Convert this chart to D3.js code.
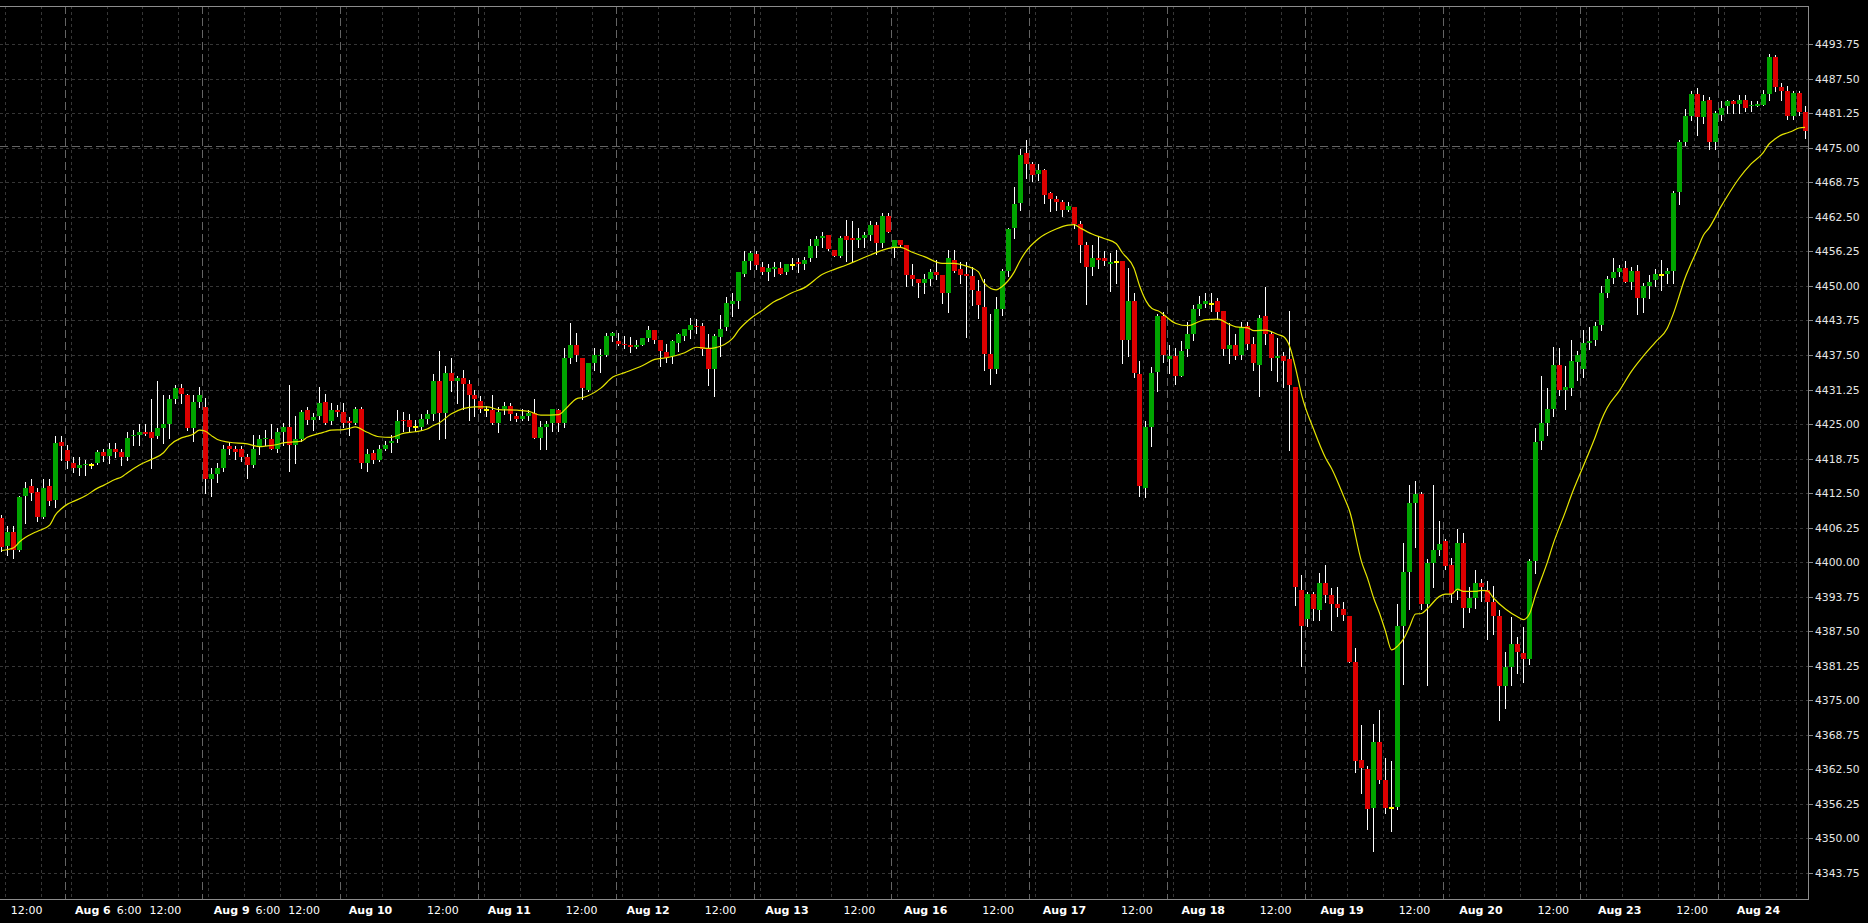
<!DOCTYPE html>
<html><head><meta charset="utf-8">
<script src="https://cdn.jsdelivr.net/npm/d3@7"></script>
<style>
html,body{margin:0;padding:0;background:#000;overflow:hidden;}
svg{display:block;}
</style></head><body>
<svg id="chart" width="1868" height="923"></svg>
<script>
// ---- DATA (hourly candles) ----
const sessionNames = ["Aug 5","Aug 6","Aug 9","Aug 10","Aug 11","Aug 12","Aug 13","Aug 16","Aug 17","Aug 18","Aug 19","Aug 20","Aug 23","Aug 24"];
const sessionStart = [-12, 11, 34, 57, 80, 103, 126, 149, 172, 195, 218, 241, 264, 287];

const open = [
4408.0,4403.0,4405.5,4402.25,4412.0,4413.75,4412.75,4408.25,4413.75,4411.25,4421.75,
4420.25,4418.0,4417.0,4417.5,4417.5,4418.0,4420.0,4419.25,4420.5,4420.0,4419.0,4422.75,4423.0,4423.5,4423.5,4422.75,4424.25,4425.0,4429.5,4431.5,4430.25,4424.25,4429.0,
4428.0,4415.0,4416.0,4417.0,4421.0,4420.5,4420.5,4419.0,4417.5,4421.0,4422.25,4422.25,4420.5,4423.5,4424.5,4421.25,4422.25,4427.5,4425.75,4426.5,4429.0,4425.5,4427.5,
4427.25,4425.5,4425.25,4427.75,4418.0,4419.75,4418.5,4420.5,4421.5,4422.25,4425.75,4425.75,4424.5,4424.5,4426.0,4426.75,4432.75,4427.0,4434.25,4432.75,4433.25,4432.25,4430.25,
4429.25,4427.5,4427.5,4425.25,4427.75,4428.25,4426.5,4426.0,4426.5,4427.0,4422.5,4424.5,4425.25,4427.5,4425.25,4437.0,4439.25,4437.0,4431.25,4436.0,4437.25,4437.5,4441.0,
4440.0,4439.5,4439.25,4439.0,4439.25,4440.5,4442.0,4440.25,4438.0,4437.25,4439.75,4441.0,4442.0,4442.75,4442.75,4438.5,4435.0,4440.75,4442.5,4446.75,4447.25,4452.25,4454.5,
4455.75,4453.5,4452.5,4453.0,4453.25,4452.5,4453.75,4454.25,4454.0,4455.0,4457.25,4458.75,4459.25,4456.5,4455.5,4459.0,4458.75,4458.25,4458.75,4459.25,4461.0,4457.75,4462.75,
4457.0,4458.25,4457.5,4452.0,4451.25,4450.5,4451.25,4452.5,4452.0,4448.75,4454.75,4453.0,4452.25,4451.75,4449.0,4446.25,4437.75,4435.0,4445.75,4452.75,4460.5,4465.0,4474.0,
4472.0,4470.25,4471.0,4466.75,4465.75,4465.25,4463.75,4464.25,4461.25,4457.5,4453.5,4455.0,4455.0,4454.0,4454.25,4454.5,4440.25,4447.25,4434.0,4413.5,4424.5,4434.5,4444.5,
4436.75,4437.25,4433.75,4438.5,4441.25,4445.75,4446.75,4446.75,4447.25,4445.5,4438.5,4439.25,4437.5,4442.75,4439.5,4435.75,4444.5,4441.25,4437.0,4437.25,4436.75,4431.75,4395.0,
4389.75,4394.25,4391.25,4396.25,4394.0,4392.5,4391.5,4390.25,4382.0,4364.25,4362.5,4355.5,4367.5,4360.5,4355.5,4355.75,4388.5,4398.25,4410.75,4412.25,4392.5,4399.75,4402.25,
4403.75,4399.5,4394.75,4403.5,4391.75,4393.5,4396.25,4395.0,4392.75,4390.25,4377.5,4381.0,4385.25,4383.5,4382.5,4400.25,4422.0,4425.25,4427.75,4435.75,4431.25,4431.5,4436.25,
4435.0,4439.75,4440.25,4443.0,4448.75,4451.5,4452.5,4453.25,4450.75,4452.75,4447.75,4450.0,4451.0,4452.0,4452.25,4452.75,4467.0,4476.0,4480.75,4484.75,4480.5,4483.75,4476.0,
4481.0,4482.5,4483.5,4483.0,4483.75,4482.5,4482.5,4482.75,4484.75,4491.5,4486.0,4485.25,4480.75,4485.0,4481.5
];
const high = [
4408.5,4406.5,4406.5,4412.0,4414.5,4415.0,4413.5,4415.0,4415.0,4422.75,4422.75,
4421.25,4419.0,4419.0,4418.5,4418.0,4420.25,4420.5,4421.5,4421.5,4420.5,4423.5,4424.0,4425.0,4425.0,4429.5,4432.75,4430.25,4430.25,4432.0,4432.25,4430.5,4430.25,4431.75,
4429.75,4417.0,4418.0,4421.25,4421.75,4421.0,4421.0,4419.5,4423.0,4423.0,4424.0,4425.0,4424.25,4425.25,4432.0,4426.5,4427.5,4428.0,4427.0,4431.75,4430.5,4428.75,4428.5,
4428.75,4426.25,4428.0,4428.0,4420.5,4420.25,4421.25,4422.0,4423.0,4427.5,4427.25,4426.75,4425.75,4426.75,4427.5,4434.0,4438.25,4435.5,4437.0,4433.75,4434.75,4433.0,4431.25,
4430.0,4428.25,4430.25,4428.0,4429.0,4428.75,4427.0,4427.75,4427.5,4429.5,4425.5,4425.5,4427.75,4427.75,4438.75,4443.25,4441.5,4437.0,4436.0,4438.75,4438.5,4441.5,4441.75,
4441.5,4441.0,4440.75,4440.25,4440.5,4442.75,4442.0,4440.25,4439.5,4440.25,4441.5,4442.25,4444.25,4444.0,4443.25,4441.25,4441.25,4444.75,4448.0,4448.75,4452.5,4456.25,4456.25,
4456.25,4454.25,4454.0,4454.25,4454.25,4454.0,4455.0,4455.0,4455.25,4458.5,4459.0,4459.75,4459.25,4456.5,4459.0,4462.0,4461.75,4460.5,4459.75,4461.75,4461.5,4463.25,4463.25,
4458.25,4458.25,4457.5,4454.0,4451.25,4452.25,4453.0,4454.75,4452.0,4456.5,4456.5,4454.25,4454.25,4453.5,4451.0,4451.25,4445.0,4448.0,4453.0,4460.5,4468.0,4474.75,4476.5,
4472.5,4472.0,4471.25,4467.0,4466.25,4465.5,4465.25,4464.25,4461.75,4458.0,4457.5,4459.0,4456.25,4456.0,4456.5,4454.5,4453.25,4448.75,4436.5,4425.5,4435.25,4445.0,4445.25,
4439.25,4438.75,4440.0,4443.5,4446.5,4448.25,4448.75,4448.75,4447.75,4445.5,4443.25,4441.25,4443.5,4443.5,4440.75,4444.75,4449.75,4441.75,4440.5,4438.0,4445.5,4431.75,4397.75,
4394.5,4394.5,4398.0,4399.5,4395.25,4395.5,4392.75,4390.25,4384.5,4370.5,4363.0,4370.75,4373.25,4364.5,4364.0,4392.5,4403.5,4414.0,4414.75,4412.75,4400.5,4414.0,4407.5,
4404.25,4400.75,4406.0,4405.25,4395.5,4398.5,4397.0,4396.5,4395.75,4391.25,4383.75,4390.0,4386.5,4388.25,4400.5,4424.25,4433.75,4431.5,4439.0,4438.75,4435.5,4440.25,4438.25,
4442.0,4442.5,4443.5,4450.0,4451.75,4455.0,4453.75,4454.5,4453.5,4453.75,4450.5,4452.0,4453.0,4454.75,4453.25,4467.25,4476.5,4482.0,4485.25,4485.75,4484.5,4484.25,4481.75,
4483.5,4483.75,4483.75,4484.5,4484.5,4483.5,4483.5,4485.5,4492.0,4491.75,4486.75,4486.25,4485.25,4485.25,4482.5
];
const low = [
4402.0,4401.25,4400.75,4402.0,4407.0,4411.25,4407.5,4408.0,4410.25,4410.0,4418.5,
4417.0,4416.25,4415.75,4415.75,4417.0,4417.75,4418.25,4418.0,4419.0,4417.5,4418.5,4421.25,4421.25,4423.0,4417.0,4422.5,4421.5,4422.5,4428.75,4428.75,4424.0,4422.0,4428.0,
4412.5,4412.0,4414.5,4416.5,4419.5,4418.75,4418.25,4415.25,4417.25,4419.5,4421.25,4420.5,4420.0,4421.25,4416.5,4418.0,4422.0,4425.0,4424.0,4426.0,4425.0,4425.0,4426.5,
4424.5,4423.0,4425.0,4417.0,4416.5,4418.0,4418.25,4420.25,4420.0,4421.75,4423.75,4423.75,4423.75,4424.0,4425.25,4425.75,4422.25,4422.5,4431.0,4428.75,4427.75,4425.75,4426.5,
4427.25,4426.5,4425.0,4423.5,4426.75,4425.75,4425.5,4425.75,4425.75,4422.5,4420.5,4420.5,4423.75,4423.75,4424.5,4436.0,4436.5,4429.5,4431.0,4434.75,4434.5,4437.25,4440.0,
4439.25,4438.75,4438.0,4438.75,4439.25,4440.0,4439.75,4435.5,4436.25,4436.0,4438.25,4440.25,4440.5,4441.5,4437.5,4432.0,4430.0,4437.25,4442.0,4444.5,4446.0,4451.75,4453.0,
4453.0,4452.25,4451.0,4451.75,4452.25,4452.25,4453.0,4452.5,4453.0,4454.5,4455.25,4457.0,4456.5,4455.5,4455.25,4454.5,4454.25,4457.0,4457.0,4458.25,4455.75,4457.0,4459.75,
4455.25,4457.0,4450.0,4450.25,4448.0,4448.75,4450.25,4451.25,4447.0,4445.25,4452.5,4450.5,4440.75,4446.5,4444.25,4434.75,4432.25,4434.25,4444.75,4451.75,4458.75,4463.75,4469.5,
4469.0,4469.25,4465.0,4463.5,4463.75,4462.75,4463.5,4460.5,4454.25,4446.75,4452.0,4453.25,4453.75,4449.0,4450.5,4436.0,4437.25,4433.5,4412.0,4411.75,4421.0,4431.0,4436.25,
4434.25,4432.25,4433.75,4437.25,4440.25,4444.75,4446.25,4445.5,4444.0,4437.5,4436.0,4436.75,4436.75,4438.5,4434.75,4430.0,4439.5,4434.75,4432.75,4431.75,4420.25,4392.25,4381.25,
4388.5,4389.5,4389.5,4392.75,4387.75,4390.25,4389.5,4382.0,4362.0,4358.25,4351.75,4347.75,4360.0,4354.5,4351.25,4355.25,4378.0,4391.5,4402.75,4391.5,4377.75,4395.5,4401.25,
4398.75,4392.75,4393.25,4388.25,4391.0,4391.75,4393.0,4386.0,4387.0,4371.5,4373.5,4377.75,4380.0,4378.25,4381.5,4398.0,4420.5,4423.0,4426.5,4430.25,4427.75,4430.25,4433.0,
4433.5,4438.5,4439.25,4442.0,4448.0,4450.5,4451.75,4450.75,4449.5,4445.0,4445.25,4447.75,4450.0,4449.25,4450.5,4450.5,4464.75,4475.5,4480.0,4477.25,4479.5,4474.75,4474.75,
4480.0,4481.25,4481.25,4481.25,4481.75,4481.75,4482.5,4482.75,4483.75,4485.25,4483.75,4480.25,4480.25,4481.0,4476.75
];
const close = [
4402.75,4405.5,4402.25,4411.75,4413.5,4412.5,4408.25,4413.5,4411.0,4421.5,4421.0,
4418.25,4417.0,4417.5,4417.75,4417.5,4420.0,4419.25,4420.5,4420.0,4419.0,4422.5,4423.0,4423.5,4423.25,4422.5,4424.25,4425.0,4429.5,4431.5,4430.5,4424.25,4429.0,4430.25,
4415.0,4416.0,4417.0,4420.5,4420.5,4420.0,4419.0,4417.5,4420.5,4422.25,4422.5,4420.5,4423.5,4424.5,4421.25,4422.25,4427.25,4425.75,4426.25,4428.75,4425.25,4427.5,4427.25,
4425.25,4425.25,4427.75,4418.0,4419.5,4418.5,4420.5,4421.25,4422.0,4425.5,4425.5,4424.5,4424.5,4426.0,4426.75,4432.75,4427.0,4434.25,4432.75,4433.25,4432.25,4430.25,4429.5,
4427.75,4427.5,4425.25,4427.25,4428.25,4426.75,4426.0,4426.5,4427.0,4422.5,4424.5,4425.0,4427.75,4425.25,4437.0,4439.25,4437.5,4431.5,4436.0,4437.5,4437.5,4441.0,4441.5,
4439.5,4439.25,4439.0,4439.25,4440.5,4442.0,4440.25,4438.25,4437.0,4440.0,4441.25,4442.25,4443.0,4442.5,4438.5,4435.0,4441.0,4442.25,4447.0,4447.25,4452.5,4454.5,4456.0,
4453.75,4452.5,4453.25,4453.5,4452.25,4454.0,4453.75,4454.0,4454.75,4457.25,4458.5,4459.0,4456.75,4455.5,4458.75,4458.25,4458.25,4458.75,4459.25,4461.0,4457.75,4462.75,4459.75,
4458.25,4457.5,4452.0,4451.25,4450.5,4451.25,4452.5,4452.0,4448.75,4455.0,4452.75,4452.0,4451.75,4449.25,4446.5,4437.75,4435.0,4445.75,4452.75,4460.25,4464.75,4473.75,4472.0,
4470.0,4471.0,4466.5,4465.75,4465.25,4463.75,4464.5,4461.25,4457.5,4453.5,4455.0,4454.75,4454.5,4454.25,4454.25,4440.25,4447.25,4434.25,4413.75,4424.5,4434.25,4444.5,4437.5,
4437.25,4433.75,4438.25,4441.25,4445.75,4446.75,4447.25,4446.75,4445.25,4438.5,4439.25,4437.25,4442.5,4439.5,4436.0,4444.25,4441.25,4437.0,4437.25,4436.5,4432.0,4395.5,4388.5,
4394.25,4391.5,4396.25,4394.0,4392.5,4391.75,4390.5,4382.0,4364.0,4362.75,4355.25,4367.5,4360.5,4355.5,4355.5,4388.5,4398.25,4410.75,4412.25,4392.5,4399.75,4402.25,4403.25,
4399.25,4394.25,4403.5,4391.75,4393.5,4396.25,4395.5,4392.75,4390.25,4377.5,4381.0,4385.25,4383.75,4382.5,4400.25,4421.75,4425.25,4427.75,4435.75,4431.25,4431.75,4436.5,4437.5,
4439.75,4440.0,4442.75,4448.75,4451.25,4452.5,4453.25,4450.75,4452.75,4447.75,4450.0,4450.75,4452.25,4452.0,4452.75,4466.75,4476.0,4480.75,4484.75,4480.5,4483.5,4476.0,4481.25,
4482.25,4483.5,4483.0,4483.75,4482.25,4482.75,4483.0,4484.75,4491.5,4486.0,4485.25,4480.75,4485.0,4481.5,4478.0
];

// moving average (yellow line), read at these candle indices
const maIndex = [0,2,3,4,5,6,8,9,10,11,12,14,16,17,19,20,21,23,25,27,28,30,31,32,33,34,35,36,38,41,43,44,46,47,48,50,51,53,54,55,57,58,59,61,63,65,67,69,71,72,73,75,77,79,81,83,86,88,90,93,94,96,97,100,102,104,107,109,111,114,116,118,119,122,123,125,127,129,130,132,134,137,139,141,143,145,148,149,150,152,154,157,159,161,163,164,166,167,169,170,171,173,176,178,179,180,182,184,186,187,189,190,191,192,193,196,198,200,201,203,205,206,208,209,211,213,214,215,216,217,219,221,222,224,225,227,228,229,230,231,232,233,234,235,236,237,238,240,241,242,243,244,246,247,248,249,251,253,254,255,256,258,259,261,262,264,266,267,268,270,272,274,276,278,279,281,282,283,284,285,287,288,290,292,294,295,296,297,298,299,300,301];
const maValue = [4402.1,4402.6,4403.7,4404.5,4405.1,4405.6,4406.7,4408.6,4409.7,4410.5,4411.0,4412.0,4413.4,4413.9,4415.0,4415.4,4416.2,4417.6,4418.6,4419.8,4421.1,4422.5,4422.8,4423.2,4423.9,4423.7,4422.9,4422.2,4421.7,4421.4,4420.9,4421.0,4421.3,4421.6,4421.7,4421.9,4422.6,4423.3,4423.6,4423.9,4424.0,4424.2,4424.5,4423.5,4422.7,4422.6,4423.3,4423.6,4424.1,4424.7,4425.2,4426.8,4427.8,4428.1,4428.1,4427.6,4427.5,4427.3,4426.6,4426.7,4427.6,4429.6,4429.8,4431.5,4433.5,4434.3,4435.6,4436.7,4437.0,4437.9,4438.9,4438.7,4438.8,4440.5,4442.0,4444.1,4445.6,4447.2,4447.7,4448.8,4449.7,4452.1,4453.0,4453.8,4454.7,4455.6,4456.8,4457.0,4457.0,4456.1,4455.3,4454.1,4454.1,4453.6,4452.6,4450.5,4449.3,4449.9,4452.5,4454.6,4456.3,4458.5,4460.3,4461.0,4461.1,4460.5,4459.4,4458.6,4457.7,4456.1,4453.2,4449.8,4447.3,4445.9,4445.5,4443.2,4442.8,4443.6,4443.9,4444.0,4443.0,4442.6,4442.4,4441.9,4442.0,4441.2,4440.8,4439.0,4435.0,4430.2,4424.0,4418.8,4416.9,4411.9,4409.2,4400.0,4397.0,4393.5,4390.7,4387.4,4384.1,4384.8,4386.1,4388.3,4390.6,4390.7,4391.6,4393.8,4394.2,4394.2,4395.1,4394.7,4394.7,4394.9,4394.8,4393.5,4391.5,4390.1,4389.6,4390.6,4394.0,4400.0,4403.4,4409.1,4412.1,4417.4,4422.7,4425.7,4428.0,4431.0,4434.5,4437.3,4439.8,4442.3,4444.9,4451.5,4454.1,4456.5,4459.1,4460.5,4464.4,4466.2,4469.5,4472.1,4474.1,4475.7,4476.6,4477.3,4477.7,4478.1,4478.6,4478.7];

const yTickLabels = ["4343.75","4350.00","4356.25","4362.50","4368.75","4375.00","4381.25","4387.50","4393.75","4400.00","4406.25","4412.50","4418.75","4425.00","4431.25","4437.50","4443.75","4450.00","4456.25","4462.50","4468.75","4475.00","4481.25","4487.50","4493.75"];
const xTickIndex = [7,18,24,30,41,47,53,64,76,87,99,110,122,133,145,156,168,179,191,202,214,225,237,248,260,271,283,294];
const xTickText = ["12:00","Aug 6","6:00","12:00","Aug 9","6:00","12:00","Aug 10","12:00","Aug 11","12:00","Aug 12","12:00","Aug 13","12:00","Aug 16","12:00","Aug 17","12:00","Aug 18","12:00","Aug 19","12:00","Aug 20","12:00","Aug 23","12:00","Aug 24"];
const refLevel = 4475.25;

// ---- DRAW ----
const N = open.length;
const svg = d3.select("#chart");
const P = {left:0, right:1808, top:6, bottom:899};
const x = d3.scaleLinear().domain([0, N-1]).range([1.7, 1805.0]);
const xl = d3.scaleLinear().domain([0, N-1]).range([-15.7, 1800.7]);
const y = d3.scaleLinear().domain([4343.75, 4493.75]).range([872.8, 44.3]);
const crisp = v => Math.round(v) + 0.5;

svg.append("rect").attr("width",1868).attr("height",923).attr("fill","#000");

const grid = svg.append("g");
grid.selectAll("line.h").data(yTickLabels).join("line")
  .attr("x1",P.left).attr("x2",P.right)
  .attr("y1",d=>crisp(y(+d))).attr("y2",d=>crisp(y(+d)))
  .attr("stroke","#363636").attr("stroke-dasharray","3,3");
const minorIdx = [];
sessionStart.forEach(s => [1,7,13,19].forEach(o => { const k=s+o; if (k>=0 && k<N) minorIdx.push(k); }));
grid.selectAll("line.v").data(minorIdx).join("line")
  .attr("x1",d=>crisp(x(d-0.5))).attr("x2",d=>crisp(x(d-0.5)))
  .attr("y1",P.top).attr("y2",P.bottom)
  .attr("stroke","#363636").attr("stroke-dasharray","3,3");
grid.selectAll("line.s").data(sessionStart.filter(s=>s>=0)).join("line")
  .attr("x1",d=>crisp(x(d-0.5))).attr("x2",d=>crisp(x(d-0.5)))
  .attr("y1",P.top).attr("y2",P.bottom)
  .attr("stroke","#646464").attr("stroke-dasharray","8,4");
grid.append("line").attr("x1",P.left).attr("x2",P.right)
  .attr("y1",crisp(y(refLevel))).attr("y2",crisp(y(refLevel)))
  .attr("stroke","#646464").attr("stroke-dasharray","8,4");

const data = d3.range(N).map(i => ({i, o:open[i], h:high[i], l:low[i], c:close[i]}));
const cg = svg.append("g");
cg.selectAll("line.w").data(data).join("line")
  .attr("x1",d=>Math.floor(x(d.i))+0.5).attr("x2",d=>Math.floor(x(d.i))+0.5)
  .attr("y1",d=>Math.round(y(d.h))).attr("y2",d=>Math.round(y(d.l))+1)
  .attr("stroke","#ffffff").attr("stroke-width",1);
cg.selectAll("rect.b").data(data).join("rect")
  .attr("x",d=>Math.floor(x(d.i))-2).attr("width",5)
  .attr("y",d=> d.o===d.c ? Math.round(y(d.o))-1 : Math.round(y(Math.max(d.o,d.c))))
  .attr("height",d=> d.o===d.c ? 2 : Math.max(1, Math.round(y(Math.min(d.o,d.c))) - Math.round(y(Math.max(d.o,d.c)))))
  .attr("fill",d=> d.c>d.o ? "#00a400" : (d.c<d.o ? "#dc0000" : "#ffff00"));

const ma = maIndex.map((k,j)=>({k, v:maValue[j]}));
svg.append("path").datum(ma)
  .attr("d", d3.line().x(d=>x(d.k)).y(d=>y(d.v)).curve(d3.curveMonotoneX))
  .attr("fill","none").attr("stroke","#e6e600").attr("stroke-width",1.2);

const fr = svg.append("g").attr("stroke","#8c8c8c").attr("stroke-width",1);
fr.append("line").attr("x1",0).attr("x2",P.right+0.5).attr("y1",P.top+0.5).attr("y2",P.top+0.5);
fr.append("line").attr("x1",0).attr("x2",P.right+0.5).attr("y1",P.bottom+0.5).attr("y2",P.bottom+0.5);
fr.append("line").attr("x1",P.right+0.5).attr("x2",P.right+0.5).attr("y1",P.top).attr("y2",P.bottom+1);

const ya = svg.append("g");
ya.selectAll("line").data(yTickLabels).join("line")
  .attr("x1",P.right+1).attr("x2",P.right+5)
  .attr("y1",d=>crisp(y(+d))).attr("y2",d=>crisp(y(+d)))
  .attr("stroke","#8c8c8c");
ya.selectAll("text").data(yTickLabels).join("text")
  .attr("x",1815).attr("y",d=>y(+d)+4)
  .attr("font-family","DejaVu Sans").attr("font-size","10.8px")
  .attr("fill","#e6e6e6").text(d=>d);

const xa = svg.append("g");
xa.selectAll("text").data(xTickIndex).join("text")
  .attr("x",d=>xl(d)).attr("y",913.5)
  .attr("text-anchor","middle")
  .attr("font-family","DejaVu Sans").attr("font-size","11px")
  .attr("font-weight",(d,j)=> xTickText[j].startsWith("Aug") ? "bold" : "normal")
  .attr("fill","#ffffff").text((d,j)=>xTickText[j]);
</script>
</body></html>
